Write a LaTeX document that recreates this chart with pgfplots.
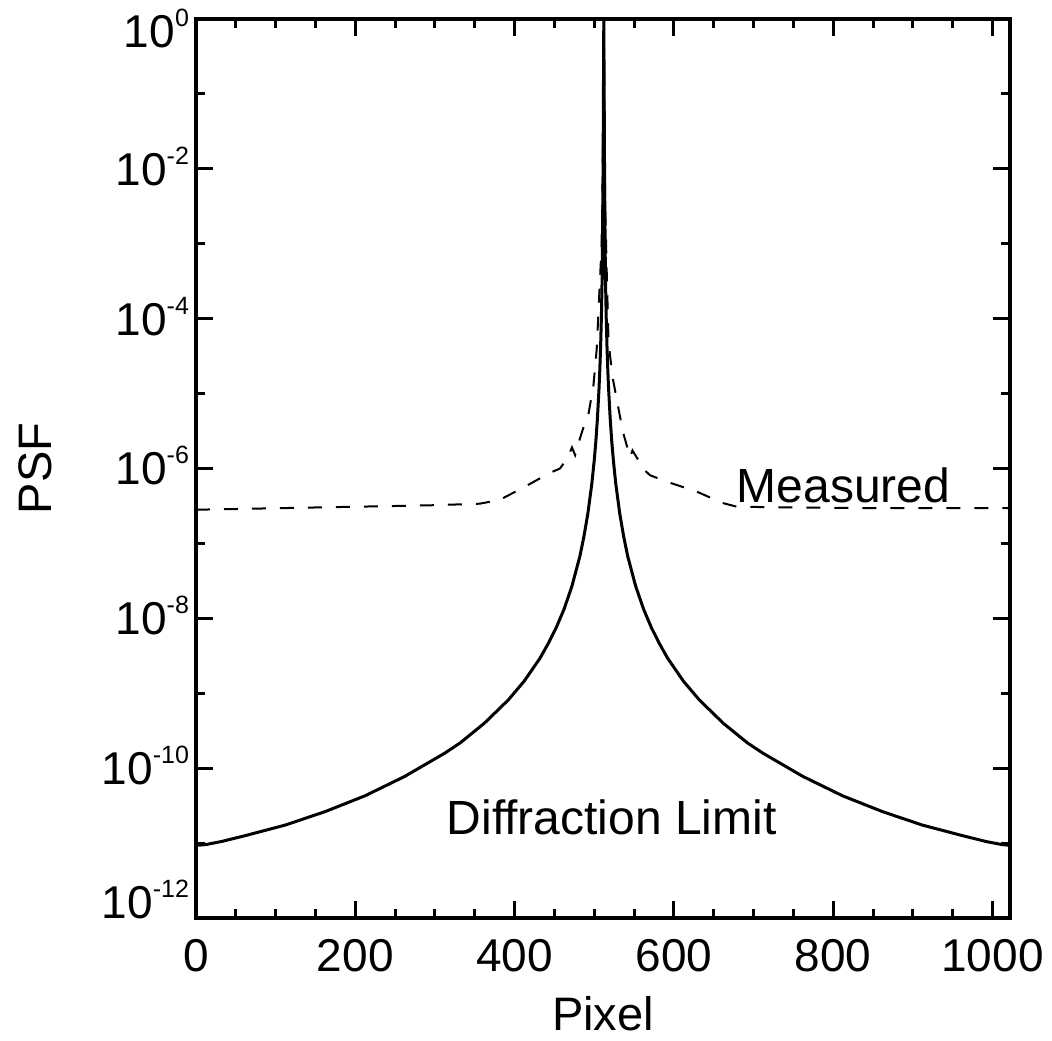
\documentclass[border=0pt]{standalone}
\usepackage{fontspec}
\setmainfont{Liberation Sans}
\usepackage{pgfplots}
\pgfplotsset{compat=1.18}
\newcommand{\tl}[1]{10\raisebox{10.5pt}{\fontsize{12.5}{12.5}\selectfont #1}}
\begin{document}
\begin{tikzpicture}
\begin{axis}[
  width=407pt, height=449.5pt, scale only axis,
  xmin=0, xmax=1022,
  ymode=log, ymin=1e-12, ymax=1,
  xtick={0,200,400,600,800,1000},
  xticklabels={0,200,400,600,800,1000},
  minor xtick={50,100,150,250,300,350,450,500,550,650,700,750,850,900,950},
  ytick={1e-12,1e-10,1e-8,1e-6,1e-4,1e-2,1},
  yticklabels={{\raisebox{8.2pt}[\height][\depth]{\tl{-12}}},\tl{-10},\tl{-8},\tl{-6},\tl{-4},\tl{-2},{\raisebox{-6pt}[\height][\depth]{\tl{0}}}},
  minor ytick={1e-11,1e-9,1e-7,1e-5,1e-3,1e-1},
  tick align=inside,
  major tick length=8.5pt, minor tick length=4.5pt,
  every tick/.style={black, line width=1.5pt},
  axis line style={line width=1.6pt},
  tick label style={font=\fontsize{23}{23}\selectfont},
  xticklabel style={yshift=-7pt},
  yticklabel style={anchor=base east, yshift=-8.2pt},
  xlabel={Pixel}, ylabel={PSF},
  label style={font=\fontsize{23.5}{23.5}\selectfont},
  xlabel style={at={(axis description cs:0.5,-0.1246)}, anchor=base},
  ylabel style={at={(axis description cs:-0.1781,0.5)}, anchor=base},
]
% Diffraction limit (solid)
\addplot[black, line width=1.5pt] coordinates {
(0,9.33e-12) (12,9.55e-12) (32,1.05e-11) (62,1.26e-11) (112,1.74e-11) (162,2.63e-11)
(212,4.27e-11) (262,7.76e-11) (312,1.58e-10) (332,2.19e-10) (362,3.98e-10) (392,8.13e-10)
(412,1.45e-9) (432,2.95e-9) (442,4.57e-9) (452,7.41e-9) (462,1.32e-8) (472,2.69e-8)
(482,6.76e-8) (487,1.23e-7) (492,2.51e-7) (497,6.31e-7) (500,1.29e-6) (502,2.29e-6)
(504,4.68e-6) (506,1.17e-5) (507,2.09e-5) (508,4.27e-5) (509,1.07e-4) (510,3.98e-4)
(511,6.3e-3) (512,1)
(513,6.3e-3) (514,3.98e-4) (515,1.07e-4) (516,4.27e-5) (517,2.09e-5) (518,1.17e-5)
(520,4.68e-6) (522,2.29e-6) (524,1.29e-6) (527,6.31e-7) (532,2.51e-7) (537,1.23e-7)
(542,6.76e-8) (552,2.69e-8) (562,1.32e-8) (572,7.41e-9) (582,4.57e-9) (592,2.95e-9)
(612,1.45e-9) (632,8.13e-10) (662,3.98e-10) (692,2.19e-10) (712,1.58e-10) (762,7.76e-11)
(812,4.27e-11) (862,2.63e-11) (912,1.74e-11) (962,1.26e-11) (992,1.05e-11) (1012,9.55e-12)
(1022,9.33e-12)
};
% Measured (dashed)
\addplot[black, line width=1pt, dash pattern=on 7pt off 7pt] coordinates {
(0,2.82e-7) (50,2.88e-7) (100,2.95e-7) (150,3.02e-7) (200,3.09e-7) (250,3.16e-7)
(300,3.24e-7) (356,3.39e-7) (381,3.80e-7) (410,5.50e-7) (444,8.71e-7) (457,1.0e-6)
(467,1.41e-6) (472,1.91e-6) (476,1.51e-6) (482,2.51e-6) (488,3.98e-6) (493,5.50e-6)
(499,1.29e-5) (503,3.80e-5) (505,1.05e-4) (507,3.02e-4) (509,8.32e-4) (510,2.5e-3)
(511,3.2e-2) (512,1)
(513,3.2e-2) (514,2.5e-3) (516,3.02e-4) (518,4.79e-5) (523,1.66e-5) (529,7.59e-6)
(536,3.09e-6) (541,2.0e-6) (545,1.41e-6) (548,1.74e-6) (563,9.55e-7) (570,8.13e-7)
(595,6.46e-7) (629,4.90e-7) (661,3.47e-7) (679,3.09e-7) (750,3.02e-7) (850,2.95e-7)
(950,2.95e-7) (1022,2.95e-7)
};
\node[anchor=base, font=\fontsize{24}{24}\selectfont] at (axis cs:813,3.55e-7) {Measured};
\node[anchor=base, font=\fontsize{24}{24}\selectfont] at (axis cs:522,1.29e-11) {Diffraction Limit};
\end{axis}
\pgfresetboundingbox
\path ([shift={(-98pt,-61pt)}]current axis.south west) rectangle ([shift={(21pt,9.5pt)}]current axis.north east);
\end{tikzpicture}
\end{document}
